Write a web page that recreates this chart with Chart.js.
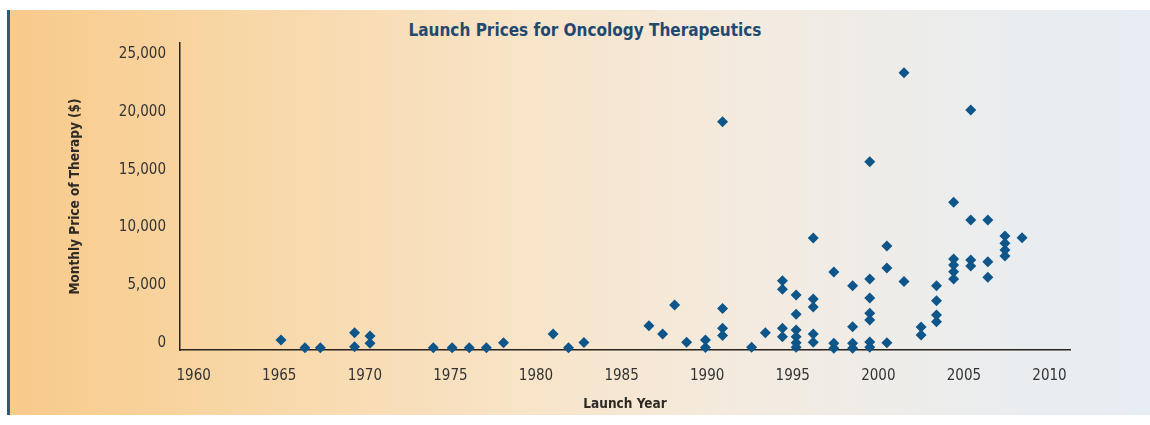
<!DOCTYPE html>
<html>
<head>
<meta charset="utf-8">
<script src="https://cdn.jsdelivr.net/npm/chart.js@4.4.1/dist/chart.umd.min.js"></script>
<style>
  body { margin: 0; background: #ffffff; }
  #panel {
    position: absolute; left: 7px; top: 10px; width: 1143px; height: 405px;
    border-left: 3px solid #2c5a7e;
    background: linear-gradient(to right, #f8ca8b 0%, #f8d7a6 20%, #f8e4c8 45%, #f3ebe0 65%, #ebedee 85%, #e6edf3 100%);
  }
  #title {
    position: absolute; left: 585px; top: 20px; transform: translateX(-50%);
    white-space: nowrap;
    font: bold 17px "DejaVu Sans Condensed", "DejaVu Sans", sans-serif;
    color: #1f4a70;
  }
  #graph { position: absolute; left: 0; top: 0; }
</style>
</head>
<body>
<div id="panel"></div>
<div id="title">Launch Prices for Oncology Therapeutics</div>
<canvas id="graph" width="1150" height="425"></canvas>
<script>
// Données : année de lancement et prix mensuel ($)
var launchYears = [
    1965.1, 1966.5, 1967.4, 1969.4, 1969.4, 1970.3, 1970.3,
    1974.0, 1975.1, 1976.1, 1977.1, 1978.1,
    1981.0, 1981.9, 1982.8,
    1986.6, 1987.4, 1988.1, 1988.8, 1989.9, 1989.9,
    1990.9, 1990.9, 1990.9, 1990.9,
    1992.6, 1993.4,
    1994.4, 1994.4, 1994.4, 1994.4,
    1995.2, 1995.2, 1995.2, 1995.2, 1995.2, 1995.2,
    1996.2, 1996.2, 1996.2, 1996.2, 1996.2,
    1997.4, 1997.4, 1997.4,
    1998.5, 1998.5, 1998.5, 1998.5,
    1999.5, 1999.5, 1999.5, 1999.5, 1999.5, 1999.5, 1999.5,
    2000.5, 2000.5, 2000.5,
    2001.5, 2001.5,
    2002.5, 2002.5,
    2003.4, 2003.4, 2003.4, 2003.4,
    2004.4, 2004.4, 2004.4, 2004.4, 2004.4,
    2005.4, 2005.4, 2005.4, 2005.4,
    2006.4, 2006.4, 2006.4,
    2007.4, 2007.4, 2007.4, 2007.4,
    2008.4
];
var monthlyPrices = [
    870, 200, 200, 1500, 290, 1210, 580,
    200, 200, 200, 200, 630,
    1390, 200, 650,
    2110, 1390, 3900, 670, 870, 220,
    19780, 3600, 1880, 1260,
    230, 1500,
    6000, 5260, 1880, 1150,
    4770, 3090, 1730, 1150, 630, 230,
    9700, 4420, 3730, 1390, 670,
    6760, 580, 150,
    5570, 2020, 580, 150,
    16320, 6150, 4510, 3180, 2600, 690, 230,
    9010, 7110, 630,
    24030, 5940,
    1990, 1300,
    5570, 4270, 3030, 2450,
    12800, 7890, 7370, 6790, 6150,
    20800, 11270, 7800, 7280,
    11270, 7650, 6300,
    9880, 9250, 8670, 8150,
    9730
];
var xTicks = [1960, 1965, 1970, 1975, 1980, 1985, 1990, 1995, 2000, 2005, 2010];
var yTicks = [0, 5000, 10000, 15000, 20000, 25000];

var points = [];
for (var i = 0; i < launchYears.length; i++) {
    points.push({ x: launchYears[i], y: monthlyPrices[i] });
}

var tickFont = { family: '"DejaVu Sans Condensed", "DejaVu Sans", sans-serif', size: 15 };
var titleFont = { family: '"DejaVu Sans Condensed", "DejaVu Sans", sans-serif', size: 13.5, weight: 'bold' };

var ctx = document.getElementById('graph').getContext('2d');
window.myChart = new Chart(ctx, {
    type: 'scatter',
    data: {
        datasets: [{
            label: 'Launch price',
            data: points,
            backgroundColor: '#0e5689',
            borderColor: '#0e5689',
            borderWidth: 0,
            pointStyle: 'rectRot',
            pointRadius: 5.5,
            pointHoverRadius: 5.5,
            clip: false
        }]
    },
    options: {
        responsive: false,
        animation: false,
        layout: { padding: { left: 0, right: 80, top: 43, bottom: 0 } },
        plugins: {
            legend: { display: false },
            tooltip: { enabled: false }
        },
        scales: {
            x: {
                type: 'linear',
                min: 1959.2,
                max: 2011.2,
                afterBuildTicks: function (scale) {
                    scale.ticks = xTicks.map(function (v) { return { value: v }; });
                },
                afterFit: function (scale) { scale.height = 75; },
                grid: { display: false, drawTicks: false, tickLength: 0 },
                border: { display: true, color: '#2a231c', width: 1.5 },
                ticks: {
                    padding: 17,
                    color: '#333333',
                    font: tickFont,
                    maxRotation: 0,
                    autoSkip: false,
                    callback: function (value) { return String(value); }
                },
                title: {
                    display: true,
                    text: 'Launch Year',
                    color: '#2e2a24',
                    font: { family: titleFont.family, size: 13.5, weight: 'bold' },
                    padding: { top: 0, bottom: 12 }
                }
            },
            y: {
                type: 'linear',
                min: 0,
                max: 26600,
                afterBuildTicks: function (scale) {
                    scale.ticks = yTicks.map(function (v) { return { value: v }; });
                },
                afterFit: function (scale) { scale.width = 180; },
                grid: { display: false, drawTicks: false, tickLength: 0 },
                border: { display: true, color: '#2a231c', width: 1.5 },
                ticks: {
                    padding: 14,
                    labelOffset: -7,
                    color: '#333333',
                    font: tickFont,
                    callback: function (value) { return value.toLocaleString('en-US'); }
                },
                title: {
                    display: true,
                    text: 'Monthly Price of Therapy ($)',
                    color: '#2e2a24',
                    font: titleFont,
                    padding: { top: 67, bottom: 0 }
                }
            }
        }
    }
});
</script>
</body>
</html>
